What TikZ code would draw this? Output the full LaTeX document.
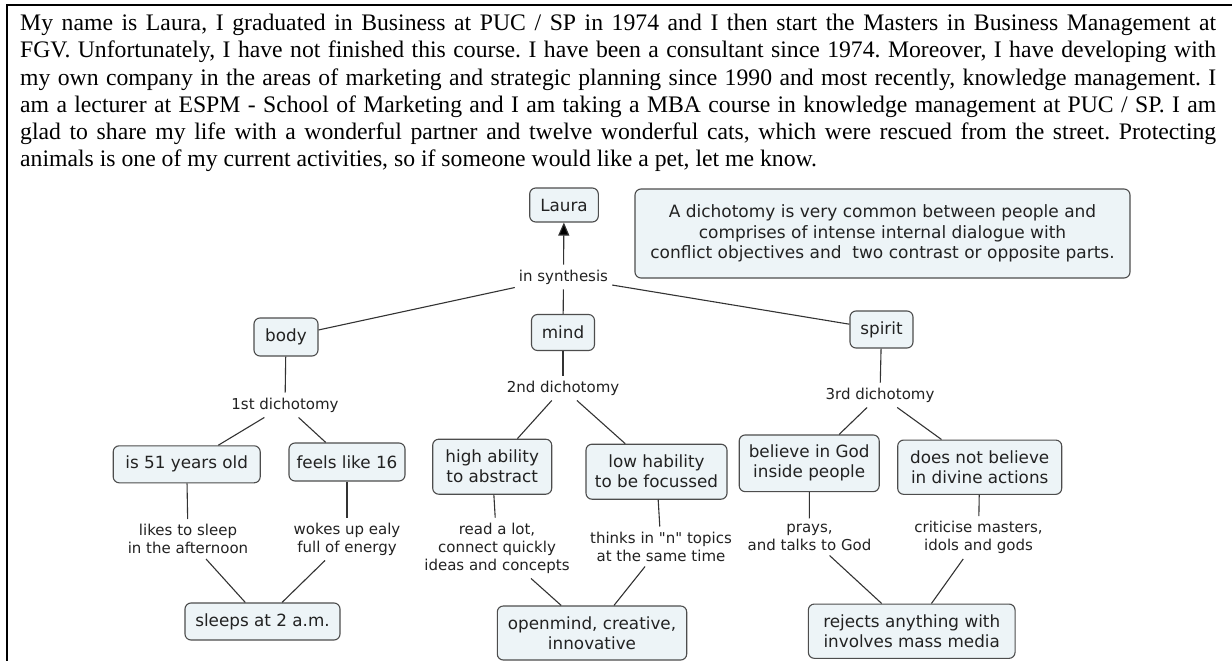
\documentclass[tikz,border=0pt]{standalone}
\usepackage{fontspec}
\setmainfont{Liberation Serif}
\newfontfamily\dvs{DejaVu Sans}
\usetikzlibrary{arrows.meta}
\definecolor{nodefill}{HTML}{EDF4F7}
\definecolor{nodeedge}{HTML}{4D4D4D}
\definecolor{linec}{HTML}{333333}
\definecolor{txt}{HTML}{222222}
\begin{document}
\begin{tikzpicture}[x=1pt,y=-1pt,
  concept/.style={draw=nodeedge, line width=1.1pt, fill=nodefill, rounded corners=6pt,
    align=center, font=\dvs\fontsize{16.8}{20}\selectfont, inner sep=0pt, text=txt},
  linkph/.style={align=center, font=\dvs\fontsize{15}{18}\selectfont,
    inner xsep=4pt, inner ysep=5pt, text=txt},
  conn/.style={draw=linec, line width=1.1pt},
]
\useasboundingbox (0,0) rectangle (1232,661);
\fill[white] (0,0) rectangle (1232,661);
% border
\draw[line width=2pt] (6.7,661) -- (6.7,5.3) -- (1232,5.3);
% paragraph
\node[anchor=base west, inner sep=0pt, font=\fontsize{23.7}{27.3}\selectfont] (para) at (20,30.5) {\parbox[t]{1196pt}{\frenchspacing
\hbox to 1196pt{My name is Laura, I graduated in Business at PUC / SP in 1974 and I then start the Masters in Business Management at}
\hbox to 1196pt{FGV. Unfortunately, I have not finished this course. I have been a consultant since 1974. Moreover, I have developing with}
\hbox to 1196pt{my own company in the areas of marketing and strategic planning since 1990 and most recently, knowledge management. I}
\hbox to 1196pt{am a lecturer at ESPM - School of Marketing and I am taking a MBA course in knowledge management at PUC / SP. I am}
\hbox to 1196pt{glad to share my life with a wonderful partner and twelve wonderful cats, which were rescued from the street. Protecting}
\hbox{animals is one of my current activities, so if someone would like a pet, let me know.}}};
% concepts
\node[concept, minimum width=68.6pt, minimum height=34pt] (laura) at (564,205) {Laura};
\node[concept, minimum width=495pt, minimum height=89pt, font=\dvs\fontsize{17}{20.5}\selectfont] (note) at (882.5,233.5)
  {A dichotomy is very common between people and\\ comprises of intense internal dialogue with\\ conflict objectives and\ \ two contrast or opposite parts.};
\node[concept, minimum width=64pt, minimum height=38pt] (body) at (286,337) {body};
\node[concept, minimum width=63pt, minimum height=36pt] (mind) at (563,332.5) {mind};
\node[concept, minimum width=63pt, minimum height=37pt] (spirit) at (881.5,329.5) {spirit};
\node[concept, minimum width=147pt, minimum height=37pt] (age) at (186.7,464.3) {is 51 years old};
\node[concept, minimum width=116pt, minimum height=38pt] (feels) at (347,462) {feels like 16};
\node[concept, minimum width=119pt, minimum height=55pt] (high) at (492.2,466.7) {high ability\\to abstract};
\node[concept, minimum width=141pt, minimum height=55pt] (low) at (656.5,471.7) {low hability\\to be focussed};
\node[concept, minimum width=140pt, minimum height=56.7pt] (god) at (809.2,463.3) {believe in God\\inside people};
\node[concept, minimum width=164pt, minimum height=54.3pt] (nogod) at (979.7,467.2) {does not believe\\in divine actions};
\node[concept, minimum width=155pt, minimum height=37pt] (sleeps) at (262.5,621.5) {sleeps at 2 a.m.};
\node[concept, minimum width=189.4pt, minimum height=54pt] (open) at (592,633) {openmind, creative,\\innovative};
\node[concept, minimum width=206.7pt, minimum height=54.3pt] (rejects) at (911.7,631.2) {rejects anything with\\involves mass media};
% linking phrases
\node[linkph] (syn) at (563.5,277) {in synthesis};
\node[linkph] (d1) at (285,405) {1st dichotomy};
\node[linkph] (d2) at (563,388) {2nd dichotomy};
\node[linkph] (d3) at (880,395) {3rd dichotomy};
\node[linkph] (l1) at (188,539) {likes to sleep\\in the afternoon};
\node[linkph] (l2) at (347,539) {wokes up ealy\\full of energy};
\node[linkph] (l3) at (497,548) {read a lot,\\connect quickly\\ideas and concepts};
\node[linkph] (l4) at (661,546.5) {thinks in "n" topics\\at the same time};
\node[linkph] (l5) at (809.5,537) {prays,\\and talks to God};
\node[linkph] (l6) at (978.5,537.5) {criticise masters,\\idols and gods};
% connectors
\draw[conn, -{Triangle[width=11pt,length=13pt,fill=black]}] (syn) -- (laura);
\draw[conn] (syn) -- (body);
\draw[conn] (syn) -- (mind);
\draw[conn] (syn) -- (spirit);
\draw[conn] (body) -- (d1);
\draw[conn] (d1) -- (age);
\draw[conn] (d1) -- (feels);
\draw[conn] (mind) -- (d2);
\draw[conn] (d2) -- (high);
\draw[conn] (d2) -- (low);
\draw[conn] (spirit) -- (d3);
\draw[conn] (d3) -- (god);
\draw[conn] (d3) -- (nogod);
\draw[conn] (age) -- (l1);
\draw[conn] (l1) -- (sleeps);
\draw[conn] (feels) -- (l2);
\draw[conn] (l2) -- (sleeps);
\draw[conn] (high) -- (l3);
\draw[conn] (l3) -- (open);
\draw[conn] (low) -- (l4);
\draw[conn] (l4) -- (open);
\draw[conn] (god) -- (l5);
\draw[conn] (l5) -- (rejects);
\draw[conn] (nogod) -- (l6);
\draw[conn] (l6) -- (rejects);
\end{tikzpicture}
\end{document}
